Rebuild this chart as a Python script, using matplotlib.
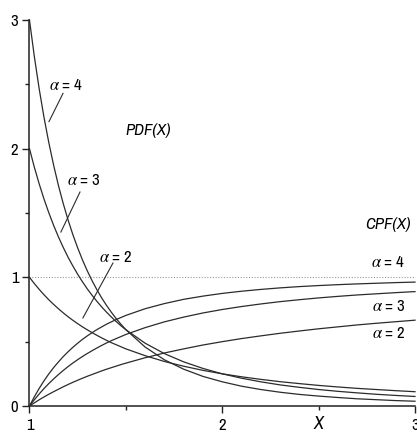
import matplotlib
matplotlib.use('Agg')
import matplotlib.pyplot as plt

plt.rcParams['font.family'] = ['Archivo Narrow', 'Liberation Sans', 'DejaVu Sans']
plt.rcParams['mathtext.fontset'] = 'stix'

# values
X = [1.000, 1.025, 1.050, 1.075, 1.100, 1.125, 1.150, 1.175, 1.200, 1.225,
     1.250, 1.275, 1.300, 1.325, 1.350, 1.375, 1.400, 1.425, 1.450, 1.475,
     1.500, 1.6, 1.7, 1.8, 1.9, 2.0, 2.1, 2.2, 2.3, 2.4, 2.5, 2.6, 2.7, 2.8, 2.9, 3.0]

PDF_A2 = [1.000, 0.952, 0.907, 0.865, 0.826, 0.790, 0.756, 0.724, 0.694, 0.666,
          0.640, 0.615, 0.592, 0.570, 0.549, 0.529, 0.510, 0.492, 0.476, 0.460,
          0.444, 0.391, 0.346, 0.309, 0.277, 0.250, 0.227, 0.207, 0.189, 0.174,
          0.160, 0.148, 0.137, 0.128, 0.119, 0.111]
PDF_A3 = [2.000, 1.857, 1.728, 1.610, 1.503, 1.405, 1.315, 1.233, 1.157, 1.088,
          1.024, 0.965, 0.910, 0.860, 0.813, 0.769, 0.729, 0.691, 0.656, 0.623,
          0.593, 0.488, 0.407, 0.343, 0.292, 0.250, 0.216, 0.188, 0.164, 0.145,
          0.128, 0.114, 0.102, 0.091, 0.082, 0.074]
PDF_A4 = [3.000, 2.718, 2.468, 2.246, 2.049, 1.873, 1.715, 1.574, 1.447, 1.332,
          1.229, 1.135, 1.050, 0.973, 0.903, 0.839, 0.781, 0.728, 0.679, 0.634,
          0.593, 0.458, 0.359, 0.286, 0.230, 0.188, 0.154, 0.128, 0.107, 0.090,
          0.077, 0.066, 0.056, 0.049, 0.042, 0.037]
CPF_A2 = [0.000, 0.024, 0.048, 0.070, 0.091, 0.111, 0.130, 0.149, 0.167, 0.184,
          0.200, 0.216, 0.231, 0.245, 0.259, 0.273, 0.286, 0.298, 0.310, 0.322,
          0.333, 0.375, 0.412, 0.444, 0.474, 0.500, 0.524, 0.545, 0.565, 0.583,
          0.600, 0.615, 0.630, 0.643, 0.655, 0.667]
CPF_A3 = [0.000, 0.048, 0.093, 0.135, 0.174, 0.210, 0.244, 0.276, 0.306, 0.334,
          0.360, 0.385, 0.408, 0.430, 0.451, 0.471, 0.490, 0.508, 0.524, 0.540,
          0.556, 0.609, 0.654, 0.691, 0.723, 0.750, 0.773, 0.793, 0.811, 0.826,
          0.840, 0.852, 0.863, 0.872, 0.881, 0.889]
CPF_A4 = [0.000, 0.071, 0.136, 0.195, 0.249, 0.298, 0.342, 0.384, 0.421, 0.456,
          0.488, 0.518, 0.545, 0.570, 0.594, 0.615, 0.636, 0.654, 0.672, 0.688,
          0.704, 0.756, 0.796, 0.829, 0.854, 0.875, 0.892, 0.906, 0.918, 0.928,
          0.936, 0.943, 0.949, 0.954, 0.959, 0.963]

fig = plt.figure(figsize=(4.17, 4.32), dpi=100)
ax = fig.add_axes([0.0707, 0.0602, 0.9245, 0.8935])

lc = '#2b2b2b'
for ys in (PDF_A2, PDF_A3, PDF_A4, CPF_A2, CPF_A3, CPF_A4):
    ax.plot(X, ys, color=lc, lw=0.9, clip_on=False, zorder=3)

ax.axhline(1.0, color='#9a9a9a', lw=0.8, ls=(0, (1, 1.5)), zorder=1)

ax.set_xlim(1, 3)
ax.set_ylim(0, 3)
for s in ('top', 'right'):
    ax.spines[s].set_visible(False)
for s in ('left', 'bottom'):
    ax.spines[s].set_linewidth(1.1)
    ax.spines[s].set_color('#222222')

ax.set_xticks([1, 2, 3])
ax.set_xticks([1.5, 2.5], minor=True)
ax.set_yticks([0, 1, 2, 3])
ax.set_yticks([0.5, 1.5, 2.5], minor=True)
ax.tick_params(which='major', length=5, width=1.0, direction='out', labelsize=12, color='#222222')
ax.tick_params(which='minor', length=3, width=1.0, direction='out', color='#222222')
ax.tick_params(axis='x', pad=4)
ax.tick_params(axis='y', pad=3)

ax.text(2.5, -0.027, 'X', transform=ax.get_xaxis_transform(), ha='center', va='top',
        fontsize=13, style='italic')

fs = 12
ax.text(1.19, 2.49, r'$\alpha$ = 4', ha='center', va='center', fontsize=fs)
ax.plot([1.174, 1.101], [2.43, 2.21], color=lc, lw=0.8)
ax.text(1.282, 1.75, r'$\alpha$ = 3', ha='center', va='center', fontsize=fs)
ax.plot([1.262, 1.163], [1.663, 1.352], color=lc, lw=0.8)
ax.text(1.448, 1.158, r'$\alpha$ = 2', ha='center', va='center', fontsize=fs)
ax.plot([1.433, 1.277], [1.111, 0.684], color=lc, lw=0.8)
ax.text(1.614, 2.145, 'PDF(X)', ha='center', va='center', fontsize=fs, style='italic')

ax.text(2.862, 1.414, 'CPF(X)', ha='center', va='center', fontsize=fs, style='italic')
ax.text(2.862, 1.119, r'$\alpha$ = 4', ha='center', va='center', fontsize=fs)
ax.text(2.862, 0.777, r'$\alpha$ = 3', ha='center', va='center', fontsize=fs)
ax.text(2.862, 0.567, r'$\alpha$ = 2', ha='center', va='center', fontsize=fs)

fig.savefig('out.png', dpi=100)
